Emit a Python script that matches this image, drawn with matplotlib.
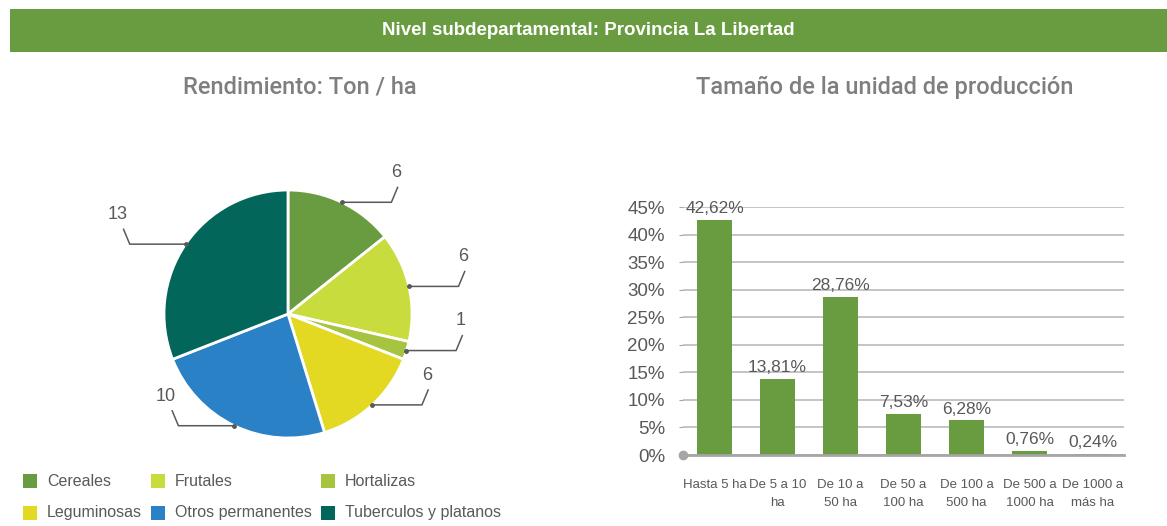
import matplotlib.pyplot as plt
from matplotlib.patches import Rectangle
import numpy as np

# data
pie_labels = ["Cereales", "Frutales", "Hortalizas", "Leguminosas",
              "Otros permanentes", "Tuberculos y platanos"]
pie_values = [6, 6, 1, 6, 10, 13]
pie_colors = ["#699B40", "#C8DC3E", "#A6C43F", "#E3D923", "#2A81C6", "#03665A"]

bar_cats = ["Hasta 5 ha", "De 5 a 10\nha", "De 10 a\n50 ha", "De 50 a\n100 ha",
            "De 100 a\n500 ha", "De 500 a\n1000 ha", "De 1000 a\nmás ha"]
bar_values = [42.62, 13.81, 28.76, 7.53, 6.28, 0.76, 0.24]
bar_color = "#699B40"

plt.rcParams["font.family"] = ["Liberation Sans", "DejaVu Sans"]
txt = "#595959"

W, H = 1167, 526
fig = plt.figure(figsize=(W / 100, H / 100), dpi=100)

# banner
ban = fig.add_axes([10 / W, (H - 52) / H, (W - 10) / W, 43 / H])
ban.set_facecolor("#699B40")
ban.set_xticks([])
ban.set_yticks([])
for s in ban.spines.values():
    s.set_visible(False)
ban.text(0.5, 0.5, "Nivel subdepartamental: Provincia La Libertad", color="white",
         fontsize=13.5, fontweight="bold", ha="center", va="center",
         transform=ban.transAxes)

# titles
title_font = ["Roboto", "Liberation Sans", "DejaVu Sans"]
fig.text(300 / W, (H - 87) / H, "Rendimiento: Ton / ha", fontsize=17,
         fontweight="medium", color="#7F7F7F", ha="center", va="center",
         family=title_font)
fig.text(885 / W, (H - 87) / H, "Tamaño de la unidad de producción", fontsize=17,
         fontweight="medium", color="#7F7F7F", ha="center", va="center",
         family=title_font)

# pie
cx, cy, R = 288, 314, 124
a = 1.6
side = 2 * a * R
pax = fig.add_axes([(cx - side / 2) / W, (H - cy - side / 2) / H, side / W, side / H])
wedges, _ = pax.pie(pie_values, colors=pie_colors, startangle=90, counterclock=False,
                    radius=1, wedgeprops=dict(edgecolor="white", linewidth=2))
pax.set_xlim(-a, a)
pax.set_ylim(-a, a)
pax.set_aspect("equal")
pax.axis("off")

for w, v in zip(wedges, pie_values):
    ang = np.deg2rad((w.theta1 + w.theta2) / 2)
    x0, y0 = np.cos(ang), np.sin(ang)
    sgn = 1 if x0 >= 0 else -1
    hl = 0.4 if sgn > 0 else 0.45
    x1 = x0 + sgn * hl
    x2, y2 = x1 + sgn * 0.05, y0 + 0.12
    pax.plot([x0, x1, x2], [y0, y0, y2], color="#595959", lw=1.1, clip_on=False)
    pax.plot([x0], [y0], marker="o", ms=2.5, color="#595959", clip_on=False)
    lx = x2 - 0.01 if sgn > 0 else x2 - 0.05
    pax.text(lx, y2 + 0.05, str(v), fontsize=13, color=txt,
             ha="center", va="bottom")

# legend (row-wise, 3 columns)
col_x = [23, 151, 321]
row_y = [481, 513]
sq = 14
for i, (lab, c) in enumerate(zip(pie_labels, pie_colors)):
    r, k = divmod(i, 3)
    fig.add_artist(Rectangle(((col_x[k]) / W, (H - row_y[r] - sq / 2) / H),
                             sq / W, sq / H, transform=fig.transFigure,
                             facecolor=c, edgecolor="none"))
    fig.text((col_x[k] + 24) / W, (H - row_y[r]) / H, lab, fontsize=11.5,
             color=txt, ha="left", va="center")

# bars
bax = fig.add_axes([683 / W, (H - 455) / H, (1124 - 683) / W, (455 - 207) / H])
x = np.arange(len(bar_cats))
bax.bar(x, bar_values, width=0.55, color=bar_color, zorder=3)
bax.set_xlim(-0.5, len(bar_cats) - 0.5)
bax.set_ylim(0, 45)
bax.set_yticks(np.arange(0, 46, 5))
bax.set_yticklabels([f"{t}%" for t in range(0, 46, 5)], fontsize=13.5, color=txt)
bax.set_xticks(x)
bax.set_xticklabels(bar_cats, fontsize=9.5, color=txt, linespacing=1.75)
bax.tick_params(axis="x", length=0, pad=17)
bax.tick_params(axis="y", length=3, color="#A6A6A6", pad=10)
bax.grid(axis="y", color="#BFBFBF", lw=1.3, zorder=0)
for s in ["top", "right", "left"]:
    bax.spines[s].set_visible(False)
bax.spines["bottom"].set_color("#A6A6A6")
bax.spines["bottom"].set_linewidth(2)
bax.spines["bottom"].set_zorder(4)
bax.plot([-0.5], [0], marker="o", ms=6, color="#A6A6A6", clip_on=False, zorder=5)
for xi, v in zip(x, bar_values):
    bax.text(xi, v + 0.7, f"{v:.2f}".replace(".", ",") + "%", fontsize=12.5,
             color=txt, ha="center", va="bottom")

fig.savefig("out.png", dpi=100)
